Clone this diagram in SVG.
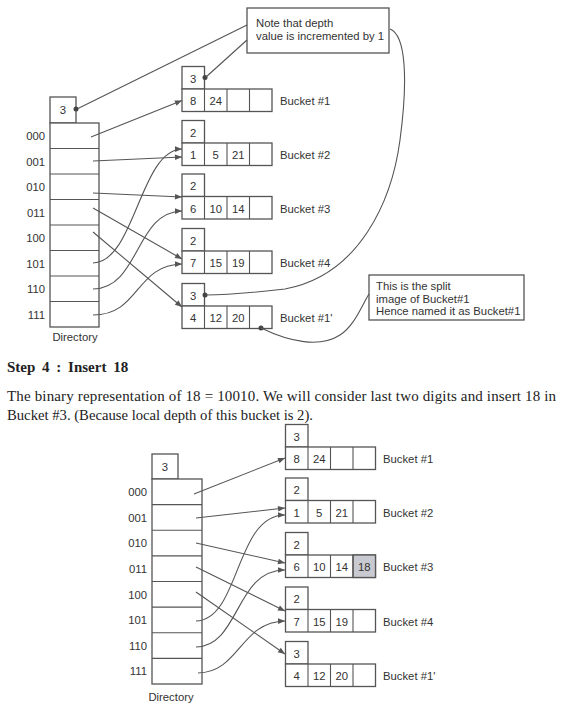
<svg xmlns="http://www.w3.org/2000/svg" width="572" height="709" viewBox="0 0 572 709">
<defs>
<style>
.bx{fill:#fff;stroke:#555;stroke-width:1.3}
.ln{fill:none;stroke:#555;stroke-width:1.1}
.t{font-family:"Liberation Sans",Arial,sans-serif;font-size:11.3px;fill:#333}
.c{text-anchor:middle}
.e{text-anchor:end}
.s{font-family:"Liberation Serif","Times New Roman",serif;font-size:15px;fill:#222}
.dot{fill:#444}
</style>
<marker id="ah" viewBox="0 0 10 10" refX="10" refY="5" markerWidth="9" markerHeight="7" markerUnits="userSpaceOnUse" orient="auto">
<path d="M0,1 L10,5 L0,9 Z" fill="#555"/>
</marker>
</defs>
<rect width="572" height="709" fill="#fff"/>

<!-- ===== Top diagram ===== -->
<g id="dir1">
<rect class="bx" x="50" y="97" width="26" height="26"/>
<text class="t c" x="63" y="114">3</text>
<rect class="bx" x="50" y="123" width="49" height="204"/>
<path class="ln" d="M50,148.5H99M50,174H99M50,199.5H99M50,225H99M50,250.5H99M50,276H99M50,301.5H99"/>
<g class="t e">
<text x="45" y="140">000</text><text x="45" y="165.5">001</text><text x="45" y="191">010</text><text x="45" y="216.5">011</text>
<text x="45" y="242">100</text><text x="45" y="267.5">101</text><text x="45" y="293">110</text><text x="45" y="318.5">111</text>
</g>
<text class="t c" x="75" y="341">Directory</text>
<circle class="dot" cx="76" cy="109" r="2.5"/>
</g>

<g id="b1" transform="translate(182,66.5)">
<rect class="bx" x="0" y="0" width="22.5" height="22.5"/><rect class="bx" x="0" y="22.5" width="90" height="22.5"/>
<path class="ln" d="M22.5,22.5V45M45,22.5V45M67.5,22.5V45"/>
<text class="t c" x="11.25" y="16">3</text><text class="t c" x="11.25" y="38.5">8</text><text class="t c" x="33.75" y="38.5">24</text>
<text class="t" x="98" y="38.5">Bucket #1</text>
<circle class="dot" cx="23" cy="11" r="2.5"/>
</g>
<g id="b2" transform="translate(182,120.5)">
<rect class="bx" x="0" y="0" width="22.5" height="22.5"/><rect class="bx" x="0" y="22.5" width="90" height="22.5"/>
<path class="ln" d="M22.5,22.5V45M45,22.5V45M67.5,22.5V45"/>
<text class="t c" x="11.25" y="16">2</text><text class="t c" x="11.25" y="38.5">1</text><text class="t c" x="33.75" y="38.5">5</text><text class="t c" x="56.25" y="38.5">21</text>
<text class="t" x="98" y="38.5">Bucket #2</text>
</g>
<g id="b3" transform="translate(182,174)">
<rect class="bx" x="0" y="0" width="22.5" height="22.5"/><rect class="bx" x="0" y="22.5" width="90" height="22.5"/>
<path class="ln" d="M22.5,22.5V45M45,22.5V45M67.5,22.5V45"/>
<text class="t c" x="11.25" y="16">2</text><text class="t c" x="11.25" y="38.5">6</text><text class="t c" x="33.75" y="38.5">10</text><text class="t c" x="56.25" y="38.5">14</text>
<text class="t" x="98" y="38.5">Bucket #3</text>
</g>
<g id="b4" transform="translate(182,228.5)">
<rect class="bx" x="0" y="0" width="22.5" height="22.5"/><rect class="bx" x="0" y="22.5" width="90" height="22.5"/>
<path class="ln" d="M22.5,22.5V45M45,22.5V45M67.5,22.5V45"/>
<text class="t c" x="11.25" y="16">2</text><text class="t c" x="11.25" y="38.5">7</text><text class="t c" x="33.75" y="38.5">15</text><text class="t c" x="56.25" y="38.5">19</text>
<text class="t" x="98" y="38.5">Bucket #4</text>
</g>
<g id="b1p" transform="translate(182,283.5)">
<rect class="bx" x="0" y="0" width="22.5" height="22.5"/><rect class="bx" x="0" y="22.5" width="90" height="22.5"/>
<path class="ln" d="M22.5,22.5V45M45,22.5V45M67.5,22.5V45"/>
<text class="t c" x="11.25" y="16">3</text><text class="t c" x="11.25" y="38.5">4</text><text class="t c" x="33.75" y="38.5">12</text><text class="t c" x="56.25" y="38.5">20</text>
<text class="t" x="98" y="38.5">Bucket #1'</text>
<circle class="dot" cx="23" cy="11.5" r="2.5"/>
<circle class="dot" cx="79" cy="44.5" r="2.5"/>
</g>

<g id="note1">
<rect class="bx" x="247" y="8" width="142" height="45"/>
<text class="t" x="256" y="27">Note that depth</text>
<text class="t" x="256" y="40">value is incremented by 1</text>
</g>
<g id="note2">
<rect class="bx" x="369" y="275" width="155" height="45"/>
<text class="t" x="376" y="290">This is the split</text>
<text class="t" x="376" y="302.5">image of Bucket#1</text>
<text class="t" x="376" y="315">Hence named it as Bucket#1</text>
</g>

<g id="connectors-top">
<path class="ln" d="M247,25L78,108.5"/>
<path class="ln" d="M247,40L206,77"/>
<path class="ln" d="M390,29C406,35 408,80 400,140C392,200 360,275 285,289C250,293 225,295 206,295"/>
<path class="ln" d="M261,328C290,342 320,348 340,335C355,325 362,305 369,294"/>
<path class="ln" marker-end="url(#ah)" d="M91,137L182,100.5"/>
<path class="ln" marker-end="url(#ah)" d="M93,161L182,157"/>
<path class="ln" marker-end="url(#ah)" d="M93,193L182,197"/>
<path class="ln" marker-end="url(#ah)" d="M93,208L182,259"/>
<path class="ln" marker-end="url(#ah)" d="M93,232L182,307"/>
<path class="ln" marker-end="url(#ah)" d="M93,263C135,262 140,150 182,149"/>
<path class="ln" marker-end="url(#ah)" d="M93,289C140,288 135,212 182,211"/>
<path class="ln" marker-end="url(#ah)" d="M93,315C140,315 135,265 182,264"/>
</g>

<!-- ===== Text ===== -->
<text class="s" x="7" y="372" font-weight="bold" word-spacing="3">Step 4 : Insert 18</text>
<text class="s" x="7" y="401" textLength="549" lengthAdjust="spacing">The binary representation of 18 = 10010. We will consider last two digits and insert 18 in</text>
<text class="s" x="7" y="420" textLength="306" lengthAdjust="spacingAndGlyphs">Bucket #3. (Because local depth of this bucket is 2).</text>

<!-- ===== Bottom diagram ===== -->
<g id="dir2">
<rect class="bx" x="152" y="454" width="26" height="25"/>
<text class="t c" x="165" y="471">3</text>
<rect class="bx" x="152" y="479" width="50" height="205"/>
<path class="ln" d="M152,504.6H202M152,530.2H202M152,555.9H202M152,581.5H202M152,607.1H202M152,632.7H202M152,658.4H202"/>
<g class="t e">
<text x="147" y="496">000</text><text x="147" y="521.6">001</text><text x="147" y="547.2">010</text><text x="147" y="572.9">011</text>
<text x="147" y="598.5">100</text><text x="147" y="624.1">101</text><text x="147" y="649.7">110</text><text x="147" y="675.4">111</text>
</g>
<text class="t c" x="171" y="701">Directory</text>
</g>

<g id="c1" transform="translate(285.5,424.5)">
<rect class="bx" x="0" y="0" width="22.5" height="22.5"/><rect class="bx" x="0" y="22.5" width="90" height="22.5"/>
<path class="ln" d="M22.5,22.5V45M45,22.5V45M67.5,22.5V45"/>
<text class="t c" x="11.25" y="16">3</text><text class="t c" x="11.25" y="38.5">8</text><text class="t c" x="33.75" y="38.5">24</text>
<text class="t" x="97.5" y="38.5">Bucket #1</text>
</g>
<g id="c2" transform="translate(285.5,478)">
<rect class="bx" x="0" y="0" width="22.5" height="22.5"/><rect class="bx" x="0" y="22.5" width="90" height="22.5"/>
<path class="ln" d="M22.5,22.5V45M45,22.5V45M67.5,22.5V45"/>
<text class="t c" x="11.25" y="16">2</text><text class="t c" x="11.25" y="38.5">1</text><text class="t c" x="33.75" y="38.5">5</text><text class="t c" x="56.25" y="38.5">21</text>
<text class="t" x="97.5" y="38.5">Bucket #2</text>
</g>
<g id="c3" transform="translate(285.5,532.5)">
<rect class="bx" x="0" y="0" width="22.5" height="22.5"/><rect class="bx" x="0" y="22.5" width="90" height="22.5"/>
<rect x="67.5" y="22.5" width="22.5" height="22.5" fill="#c9c9d1" stroke="#555" stroke-width="1.3"/>
<path class="ln" d="M22.5,22.5V45M45,22.5V45M67.5,22.5V45"/>
<text class="t c" x="11.25" y="16">2</text><text class="t c" x="11.25" y="38.5">6</text><text class="t c" x="33.75" y="38.5">10</text><text class="t c" x="56.25" y="38.5">14</text><text class="t c" x="78.75" y="38.5">18</text>
<text class="t" x="97.5" y="38.5">Bucket #3</text>
</g>
<g id="c4" transform="translate(285.5,587)">
<rect class="bx" x="0" y="0" width="22.5" height="22.5"/><rect class="bx" x="0" y="22.5" width="90" height="22.5"/>
<path class="ln" d="M22.5,22.5V45M45,22.5V45M67.5,22.5V45"/>
<text class="t c" x="11.25" y="16">2</text><text class="t c" x="11.25" y="38.5">7</text><text class="t c" x="33.75" y="38.5">15</text><text class="t c" x="56.25" y="38.5">19</text>
<text class="t" x="97.5" y="38.5">Bucket #4</text>
</g>
<g id="c1p" transform="translate(285.5,641.5)">
<rect class="bx" x="0" y="0" width="22.5" height="22.5"/><rect class="bx" x="0" y="22.5" width="90" height="22.5"/>
<path class="ln" d="M22.5,22.5V45M45,22.5V45M67.5,22.5V45"/>
<text class="t c" x="11.25" y="16">3</text><text class="t c" x="11.25" y="38.5">4</text><text class="t c" x="33.75" y="38.5">12</text><text class="t c" x="56.25" y="38.5">20</text>
<text class="t" x="97.5" y="38.5">Bucket #1'</text>
</g>

<g id="connectors-bottom">
<path class="ln" marker-end="url(#ah)" d="M194,494L285,458"/>
<path class="ln" marker-end="url(#ah)" d="M196,518L285,508"/>
<path class="ln" marker-end="url(#ah)" d="M196,543L285,563"/>
<path class="ln" marker-end="url(#ah)" d="M196,567L285,611"/>
<path class="ln" marker-end="url(#ah)" d="M196,592L285,654"/>
<path class="ln" marker-end="url(#ah)" d="M196,621C240,620 235,515 285,515"/>
<path class="ln" marker-end="url(#ah)" d="M196,647C240,646 235,570 285,570"/>
<path class="ln" marker-end="url(#ah)" d="M198,673C240,672 240,622 285,621"/>
</g>
</svg>
